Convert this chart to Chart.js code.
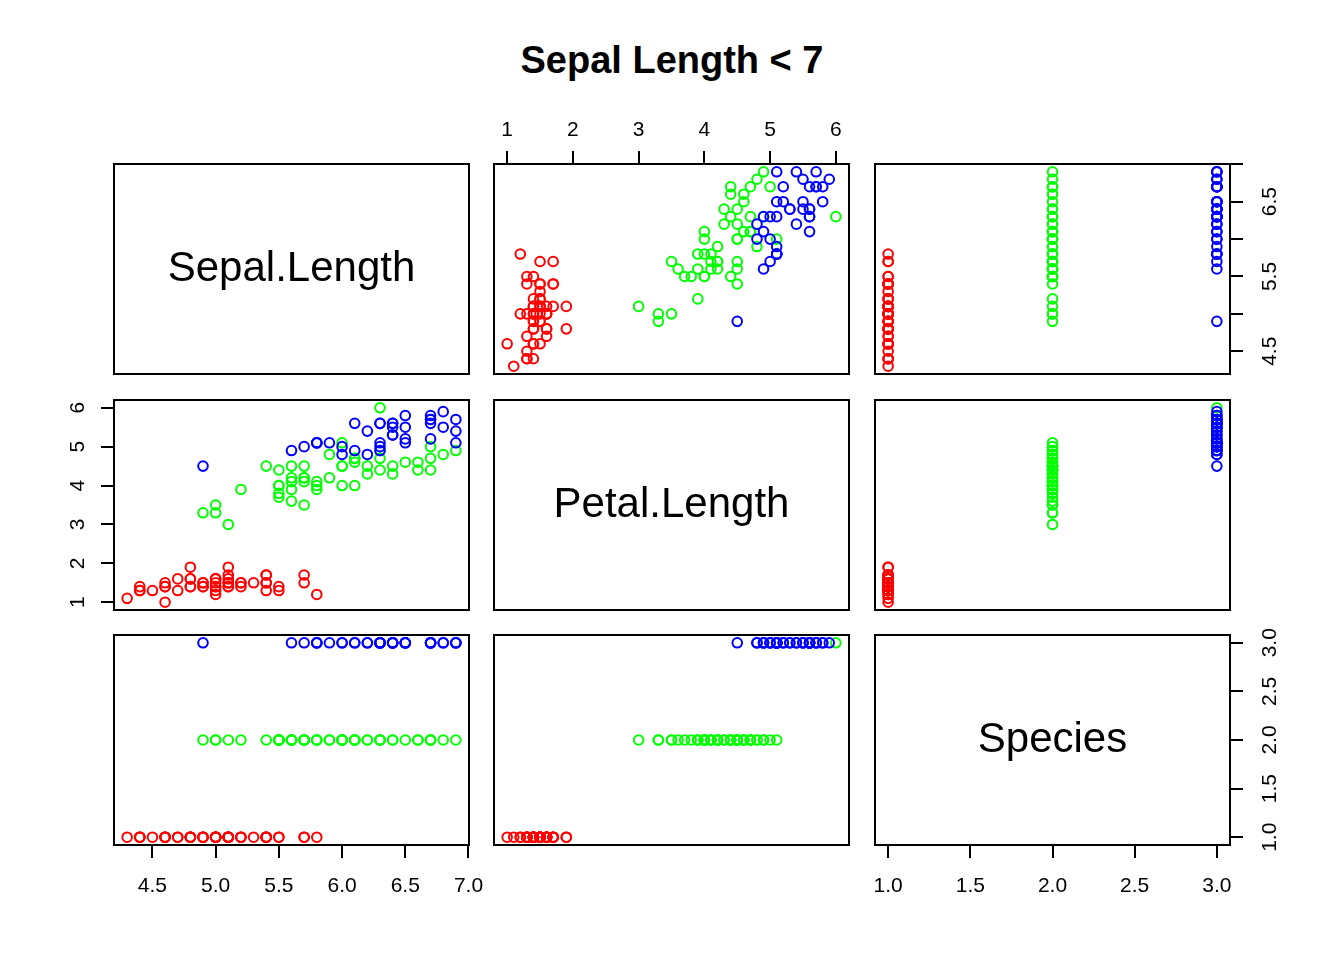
<!DOCTYPE html>
<html>
<head>
<meta charset="utf-8">
<script src="https://cdn.jsdelivr.net/npm/chart.js@4.4.0/dist/chart.umd.min.js"></script>
<style>
  body { margin: 0; background: #fff; }
  #page { position: relative; width: 1344px; height: 960px; overflow: hidden; background: #fff; }
  #page canvas { position: absolute; }
  #title {
    position: absolute; left: 0; top: 39px; width: 1344px;
    text-align: center; line-height: 38px;
    font: bold 38px "Liberation Sans", Arial, Helvetica, sans-serif;
  }
</style>
</head>
<body>
<div id="page"><div id="title">Sepal Length &lt; 7</div></div>
<script>
// iris rows with Sepal.Length < 7 (137 rows, original order)
const varNames = ['Sepal.Length', 'Petal.Length', 'Species']

const sepalLength = [
  5.1, 4.9, 4.7, 4.6, 5.0, 5.4, 4.6, 5.0, 4.4, 4.9,
  5.4, 4.8, 4.8, 4.3, 5.8, 5.7, 5.4, 5.1, 5.7, 5.1,
  5.4, 5.1, 4.6, 5.1, 4.8, 5.0, 5.0, 5.2, 5.2, 4.7,
  4.8, 5.4, 5.2, 5.5, 4.9, 5.0, 5.5, 4.9, 4.4, 5.1,
  5.0, 4.5, 4.4, 5.0, 5.1, 4.8, 5.1, 4.6, 5.3, 5.0,
  6.4, 6.9, 5.5, 6.5, 5.7, 6.3, 4.9, 6.6, 5.2, 5.0,
  5.9, 6.0, 6.1, 5.6, 6.7, 5.6, 5.8, 6.2, 5.6, 5.9,
  6.1, 6.3, 6.1, 6.4, 6.6, 6.8, 6.7, 6.0, 5.7, 5.5,
  5.5, 5.8, 6.0, 5.4, 6.0, 6.7, 6.3, 5.6, 5.5, 5.5,
  6.1, 5.8, 5.0, 5.6, 5.7, 5.7, 6.2, 5.1, 5.7,
  6.3, 5.8, 6.3, 6.5, 4.9, 6.7, 6.5, 6.4, 6.8, 5.7,
  5.8, 6.4, 6.5, 6.0, 6.9, 5.6, 6.3, 6.7, 6.2, 6.1,
  6.4, 6.4, 6.3, 6.1, 6.3, 6.4, 6.0, 6.9, 6.7, 6.9,
  5.8, 6.8, 6.7, 6.7, 6.3, 6.5, 6.2, 5.9
]

const petalLength = [
  1.4, 1.4, 1.3, 1.5, 1.4, 1.7, 1.4, 1.5, 1.4, 1.5,
  1.5, 1.6, 1.4, 1.1, 1.2, 1.5, 1.3, 1.4, 1.7, 1.5,
  1.7, 1.5, 1.0, 1.7, 1.9, 1.6, 1.6, 1.5, 1.4, 1.6,
  1.6, 1.5, 1.5, 1.4, 1.5, 1.2, 1.3, 1.4, 1.3, 1.5,
  1.3, 1.3, 1.3, 1.6, 1.9, 1.4, 1.6, 1.4, 1.5, 1.4,
  4.5, 4.9, 4.0, 4.6, 4.5, 4.7, 3.3, 4.6, 3.9, 3.5,
  4.2, 4.0, 4.7, 3.6, 4.4, 4.5, 4.1, 4.5, 3.9, 4.8,
  4.0, 4.9, 4.7, 4.3, 4.4, 4.8, 5.0, 4.5, 3.5, 3.8,
  3.7, 3.9, 5.1, 4.5, 4.5, 4.7, 4.4, 4.1, 4.0, 4.4,
  4.6, 4.0, 3.3, 4.2, 4.2, 4.2, 4.3, 3.0, 4.1,
  6.0, 5.1, 5.6, 5.8, 4.5, 5.8, 5.1, 5.3, 5.5, 5.0,
  5.1, 5.3, 5.5, 5.0, 5.7, 4.9, 4.9, 5.7, 4.8, 4.9,
  5.6, 5.6, 5.1, 5.6, 5.6, 5.5, 4.8, 5.4, 5.6, 5.1,
  5.1, 5.9, 5.7, 5.2, 5.0, 5.2, 5.4, 5.1
]

const species = [
  1, 1, 1, 1, 1, 1, 1, 1, 1, 1,
  1, 1, 1, 1, 1, 1, 1, 1, 1, 1,
  1, 1, 1, 1, 1, 1, 1, 1, 1, 1,
  1, 1, 1, 1, 1, 1, 1, 1, 1, 1,
  1, 1, 1, 1, 1, 1, 1, 1, 1, 1,
  2, 2, 2, 2, 2, 2, 2, 2, 2, 2,
  2, 2, 2, 2, 2, 2, 2, 2, 2, 2,
  2, 2, 2, 2, 2, 2, 2, 2, 2, 2,
  2, 2, 2, 2, 2, 2, 2, 2, 2, 2,
  2, 2, 2, 2, 2, 2, 2, 2, 2,
  3, 3, 3, 3, 3, 3, 3, 3, 3, 3,
  3, 3, 3, 3, 3, 3, 3, 3, 3, 3,
  3, 3, 3, 3, 3, 3, 3, 3, 3, 3,
  3, 3, 3, 3, 3, 3, 3, 3
]

const sepalTicks = [4.5, 5.0, 5.5, 6.0, 6.5, 7.0]
const petalTicks = [1, 2, 3, 4, 5, 6]
const speciesTicks = [1.0, 1.5, 2.0, 2.5, 3.0]

const sepalTickLabels = ['4.5', '5.0', '5.5', '6.0', '6.5', '7.0']
const sepalRightLabels = ['4.5', '', '5.5', '', '6.5', '']
const petalTickLabels = ['1', '2', '3', '4', '5', '6']
const speciesTickLabels = ['1.0', '1.5', '2.0', '2.5', '3.0']

const colours = ['#FF0000', '#00FF00', '#0000FF']

// layout of the 3x3 grid
const M = 70
const colLeft = [114, 494, 875]
const rowTop = [164, 400, 635]
const panelW = 355
const panelH = 210

Chart.defaults.font.family = '"Liberation Sans", Arial, Helvetica, sans-serif'
Chart.defaults.color = '#000'

const variables = [sepalLength, petalLength, species]
const tickValues = [sepalTicks, petalTicks, speciesTicks]
// R style 4% extension of the data range
const ranges = variables.map(v => {
  const lo = Math.min(...v), hi = Math.max(...v), d = (hi - lo) * 0.04
  return [lo - d, hi + d]
})

// the colour vector was indexed by row position of the full data set,
// so the colour follows position (first 50 red, next 50 green, rest blue)
const pointColour = i => colours[i < 50 ? 0 : i < 100 ? 1 : 2]

// outer axes carried by each panel
const panelAxes = {
  '0,1': { top: petalTickLabels },
  '0,2': { right: sepalRightLabels },
  '1,0': { left: petalTickLabels },
  '2,0': { bottom: sepalTickLabels },
  '2,2': { bottom: speciesTickLabels, right: speciesTickLabels }
}
const tickPadding = { top: 8, bottom: 16, left: 17, right: 13 }

function makeScale(varIdx, side, labels) {
  const [min, max] = ranges[varIdx]
  if (!side) return { type: 'linear', display: false, min, max }
  const vertical = side === 'left' || side === 'right'
  return {
    type: 'linear',
    position: side,
    min, max,
    afterBuildTicks: s => { s.ticks = tickValues[varIdx].map(value => ({ value })) },
    afterFit: s => { if (vertical) s.width = M; else s.height = M },
    border: { display: false },
    grid: { drawOnChartArea: false, drawTicks: true, tickLength: 13, color: '#000', lineWidth: 2 },
    ticks: {
      color: '#000',
      font: { size: 21 },
      padding: tickPadding[side],
      autoSkip: false,
      minRotation: vertical ? 90 : 0,
      maxRotation: vertical ? 90 : 0,
      crossAlign: vertical ? 'center' : 'near',
      callback: (v, i) => labels[i]
    }
  }
}

const boxPlugin = {
  id: 'panelBox',
  afterDraw(chart) {
    const { ctx, chartArea: a } = chart
    ctx.save()
    ctx.strokeStyle = '#000'
    ctx.lineWidth = 2
    ctx.strokeRect(a.left, a.top, a.right - a.left, a.bottom - a.top)
    ctx.restore()
  }
}

const diagPlugin = {
  id: 'diagLabel',
  afterDraw(chart, args, opts) {
    if (!opts.text) return
    const { ctx, chartArea: a } = chart
    ctx.save()
    ctx.font = '42px "Liberation Sans", Arial, Helvetica, sans-serif'
    ctx.fillStyle = '#000'
    ctx.textAlign = 'center'
    ctx.textBaseline = 'middle'
    ctx.fillText(opts.text, (a.left + a.right) / 2, (a.top + a.bottom) / 2)
    ctx.restore()
  }
}

const page = document.getElementById('page')

for (let r = 0; r < 3; r++) {
  for (let c = 0; c < 3; c++) {
    const axes = panelAxes[r + ',' + c] || {}
    const xSide = axes.top ? 'top' : axes.bottom ? 'bottom' : null
    const ySide = axes.left ? 'left' : axes.right ? 'right' : null

    const canvas = document.createElement('canvas')
    canvas.width = panelW + 2 * M
    canvas.height = panelH + 2 * M
    canvas.style.left = (colLeft[c] - M) + 'px'
    canvas.style.top = (rowTop[r] - M) + 'px'
    page.appendChild(canvas)

    const diag = r === c
    const xs = variables[c], ys = variables[r]
    const points = diag ? [] : xs.map((x, i) => ({ x, y: ys[i] }))

    new Chart(canvas, {
      type: 'scatter',
      data: {
        datasets: [{
          data: points,
          pointStyle: 'circle',
          pointRadius: 4.8,
          pointHoverRadius: 4.8,
          pointBorderWidth: 2,
          pointBackgroundColor: 'rgba(0,0,0,0)',
          pointBorderColor: points.map((p, i) => pointColour(i)),
          clip: false
        }]
      },
      options: {
        responsive: false,
        animation: false,
        events: [],
        layout: {
          padding: {
            left: ySide === 'left' ? 0 : M,
            right: ySide === 'right' ? 0 : M,
            top: xSide === 'top' ? 0 : M,
            bottom: xSide === 'bottom' ? 0 : M
          }
        },
        scales: {
          x: makeScale(c, xSide, axes[xSide]),
          y: makeScale(r, ySide, axes[ySide])
        },
        plugins: {
          legend: { display: false },
          tooltip: { enabled: false },
          diagLabel: { text: diag ? varNames[r] : '' }
        }
      },
      plugins: [boxPlugin, diagPlugin]
    })
  }
}
</script>
</body>
</html>
